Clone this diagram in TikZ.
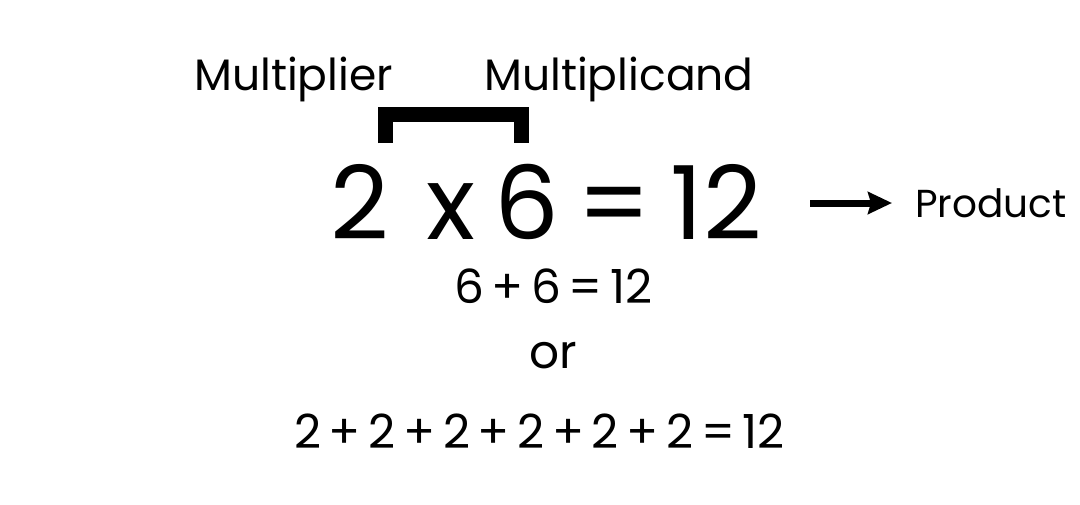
\documentclass[tikz,border=0pt]{standalone}
\usepackage{fontspec}
\setmainfont{Poppins}
\usetikzlibrary{arrows.meta}

\newcommand\bigeqfont{\fontsize{102}{110}\selectfont\spaceskip 0.185em\relax}
\newcommand\subeqfont{\fontsize{47}{54}\selectfont\spaceskip 0.163em\relax}

\tikzset{
  toptext/.style={anchor=base west, inner sep=0pt, font=\fontsize{44}{50}\selectfont},
  bigeq/.style={anchor=base west, inner sep=0pt, font=\bigeqfont},
  subeq/.style={anchor=base west, inner sep=0pt, font=\subeqfont},
  prodtext/.style={anchor=base west, inner sep=0pt, font=\fontsize{39}{44}\selectfont},
}

\begin{document}
\begin{tikzpicture}[x=1pt, y=-1pt]
    \useasboundingbox (0,0) rectangle (1080,504);
    % Labels
    \node[toptext] (mlier) at (194,90) {Multiplier};
    \node[toptext] (mcand) at (484,90) {Multiplicand};
    % Bracket
    \draw[line width=15pt] (385.5,143) -- (385.5,114.5) -- (521,114.5)
    -- (521,143);
    % Equation and product
    \node[bigeq] (eq) at (330,239) {2\ \ x 6 = 12};
    \coordinate (tail) at (810,203);
    \node[prodtext] (prod) at (915,217) {Product};
    \draw[line width=7pt, -{Stealth[length=24pt, width=22pt, inset=3pt]}]
    (tail) -- (tail -| prod.west) [shorten >=23pt];
    % Sums
    \node[subeq] (sixes) at (454,303) {6 + 6 = 12};
    \node[subeq] (or) at (529,368) {or};
    \node[subeq] (twos) at (294,448) {2 + 2 + 2 + 2 + 2 + 2 = 12};
\end{tikzpicture}
\end{document}
